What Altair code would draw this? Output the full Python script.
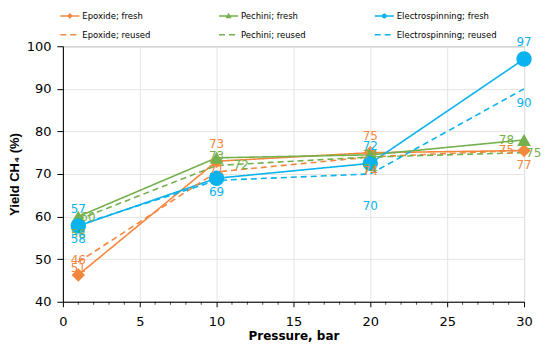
import altair as alt
import pandas as pd

# ---------------- data ----------------
pressure = [1, 10, 20, 30]

series_names = ["Epoxide; fresh", "Pechini; fresh", "Electrospinning; fresh",
                "Epoxide; reused", "Pechini; reused", "Electrospinning; reused"]

epoxide_fresh = [46.3, 73.0, 75.0, 75.5]
pechini_fresh = [60.0, 73.8, 74.5, 78.0]
electro_fresh = [57.8, 69.0, 72.5, 97.0]
epoxide_reused = [49.3, 70.5, 74.0, 75.6]
pechini_reused = [59.3, 72.0, 74.0, 75.0]
electro_reused = [58.0, 68.5, 70.0, 90.0]

epoxide_fresh_lbl = ["51", "73", "75", "77"]
pechini_fresh_lbl = ["60", "73", "74", "78"]
electro_fresh_lbl = ["57", "69", "72", "97"]
epoxide_reused_lbl = ["46", "71", "74", "75"]
pechini_reused_lbl = ["58", "72", "74", "75"]
electro_reused_lbl = ["58", "72", "70", "90"]

epoxide_fresh_pos = ["near_above", "above", "above", "below"]
pechini_fresh_pos = ["right", "center", "below", "left"]
electro_fresh_pos = ["above", "below", "above", "above"]
epoxide_reused_pos = ["center", "center", "below", "left"]
pechini_reused_pos = ["below", "far_right", "center", "right"]
electro_reused_pos = ["below", "center", "below2", "below"]

x_ticks = [0, 5, 10, 15, 20, 25, 30]
x_minor_ticks = [v for v in range(1, 30) if v % 5]

colors = ["#F4873E", "#74B04C", "#0AB2EE", "#F4873E", "#74B04C", "#0AB2EE"]
dashes = [[1, 0], [1, 0], [1, 0], [6, 4], [6, 4], [6, 4]]

values = [epoxide_fresh, pechini_fresh, electro_fresh,
          epoxide_reused, pechini_reused, electro_reused]
labels = [epoxide_fresh_lbl, pechini_fresh_lbl, electro_fresh_lbl,
          epoxide_reused_lbl, pechini_reused_lbl, electro_reused_lbl]
positions = [epoxide_fresh_pos, pechini_fresh_pos, electro_fresh_pos,
             epoxide_reused_pos, pechini_reused_pos, electro_reused_pos]

rows = []
for name, vals, lbls, poss in zip(series_names, values, labels, positions):
    for p, v, l, ps in zip(pressure, vals, lbls, poss):
        rows.append({"series": name, "pressure": p, "value": v, "label": l, "pos": ps})
df = pd.DataFrame(rows)
df_minor = pd.DataFrame({"m": x_minor_ticks})

# ---------------- scales / axes ----------------
FONT = "DejaVu Sans"
color_scale = alt.Scale(domain=series_names, range=colors)
dash_scale = alt.Scale(domain=series_names, range=dashes)

L = "M-1.6,0L1.6,0"
P_D = L + "M0,-0.3L0.3,0L0,0.3L-0.3,0Z"
P_T = L + "M0,-0.3L0.3,0.24L-0.3,0.24Z"
P_C = L + "M-0.28,0A0.28,0.28,0,1,1,0.28,0A0.28,0.28,0,1,1,-0.28,0Z"
shape_scale = alt.Scale(domain=series_names, range=[P_D, P_T, P_C, L, L, L])

x_scale = alt.Scale(domain=[0, 30], nice=False, zero=False)
y_scale = alt.Scale(domain=[40, 100], nice=False, zero=False)

x_axis = alt.Axis(
    values=x_ticks, tickSize=5,
    gridColor="#e4e4e4", domainColor="black", tickColor="black",
    labelFont=FONT, labelFontSize=13, labelColor="black", labelPadding=8.5,
    labelFlush=False, labelOverlap=False,
    title="Pressure, bar", titleFont=FONT, titleFontSize=12,
    titleFontWeight="bold", titleColor="black", titlePadding=2,
)
y_axis = alt.Axis(
    values=list(range(40, 101, 5)),
    labelExpr="datum.value % 10 === 0 ? datum.label : ''",
    tickSize={"condition": {"test": "datum.value % 10 === 0", "value": 6}, "value": 3},
    gridOpacity={"condition": {"test": "datum.value % 10 === 0", "value": 1}, "value": 0},
    gridColor="#e4e4e4", domainColor="black", tickColor="black",
    labelFont=FONT, labelFontSize=13, labelColor="black", labelPadding=6,
    labelFlush=False, labelOverlap=False,
    title="Yield CH\u2084 (%)", titleFont="Liberation Sans", titleFontSize=13,
    titleFontWeight="bold", titleColor="black", titlePadding=5,
)

leg = alt.Legend(title=None, orient="none", legendX=0, legendY=-37.5, columns=3,
                 direction="horizontal", columnPadding=65, rowPadding=7,
                 symbolSize=144, symbolStrokeWidth=1.5,
                 labelFont=FONT, labelFontSize=8.5, labelOffset=5.5, gridAlign="each",
                 labelColor="black", padding=0)

base = alt.Chart(df)
lines = base.mark_line(strokeWidth=1.6).encode(
    x=alt.X("pressure:Q", scale=x_scale, axis=x_axis),
    y=alt.Y("value:Q", scale=y_scale, axis=y_axis),
    color=alt.Color("series:N", scale=color_scale, legend=leg),
    strokeDash=alt.StrokeDash("series:N", scale=dash_scale, legend=leg),
)
legend_layer = base.transform_filter("false").mark_point(
    filled=True, opacity=1, strokeWidth=1.5).encode(
    x="pressure:Q", y="value:Q",
    color=alt.Color("series:N", scale=color_scale, legend=leg),
    shape=alt.Shape("series:N", scale=shape_scale, legend=leg),
)
minor = alt.Chart(df_minor).mark_tick(
    orient="vertical", size=3, thickness=1, color="black", yOffset=1.5).encode(
    x=alt.X("m:Q"), y=alt.datum(40))

layers = [lines, legend_layer, minor]
for name, shp, sz in [("Epoxide; fresh", "diamond", 180),
                      ("Pechini; fresh", "triangle-up", 190),
                      ("Electrospinning; fresh", "circle", 240)]:
    layers.append(base.transform_filter(alt.datum.series == name).mark_point(
        shape=shp, filled=True, size=sz, opacity=1).encode(
        x="pressure:Q", y="value:Q",
        color=alt.Color("series:N", scale=color_scale, legend=None)))

offsets = {"above": (0, -17, "center"), "near_above": (0, -7, "center"),
           "below": (0, 14, "center"), "below2": (0, 32, "center"),
           "left": (-10, 0, "right"), "right": (2, 0, "left"),
           "far_right": (17, 0, "left"), "center": (0, -2, "center")}
for pos, (dx, dy, al) in offsets.items():
    layers.append(base.transform_filter(alt.datum.pos == pos).mark_text(
        font=FONT, fontSize=12, dx=dx, dy=dy, align=al, baseline="middle").encode(
        x="pressure:Q", y="value:Q", text="label:N",
        color=alt.Color("series:N", scale=color_scale, legend=None)))

chart = alt.layer(*layers).properties(
    width=462, height=256,
    padding={"left": 0, "top": 0, "right": 0, "bottom": 0},
).configure_view(stroke="#808080", strokeWidth=1)

chart.save("out.html", embed_options={"renderer": "svg", "actions": False})
